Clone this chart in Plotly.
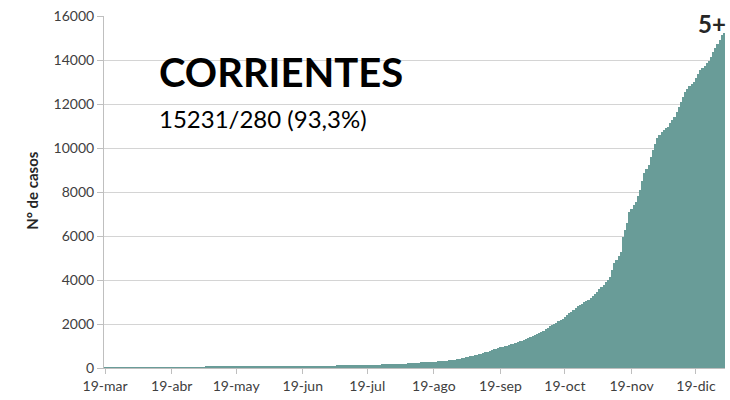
import pandas as pd
import plotly.graph_objects as go

# Daily cumulative confirmed cases, Corrientes, 19-mar-2020 .. 01-ene-2021
start_date = "2020-03-19"
cases = [
    # days 0-46
    1, 1, 2, 2, 3, 3, 4, 4, 5, 5, 6, 6, 7, 7, 8, 8, 9, 9, 10, 10,
    10, 11, 11, 11, 12, 12, 12, 13, 13, 13, 14, 14, 14, 15, 15, 15, 16, 16, 16, 17,
    17, 17, 18, 18, 18, 19, 19,
    # days 47-70
    55, 56, 57, 58, 58, 59, 60, 61, 62, 62, 63, 64, 64, 65, 66, 66, 67, 67, 68, 68,
    69, 69, 70, 70,
    # days 71-107
    88, 89, 90, 90, 91, 92, 92, 93, 94, 94, 95, 96, 96, 97, 98, 98, 99, 100, 100, 101,
    102, 102, 103, 104, 104, 105, 106, 106, 107, 108, 108, 109, 110, 110, 111, 112, 112,
    # days 108-128
    125, 126, 127, 128, 129, 130, 131, 132, 133, 134, 135, 136, 137, 138, 139, 140, 141,
    142, 143, 144, 145,
    # days 129-141
    165, 168, 172, 175, 178, 181, 184, 187, 190, 194, 198, 203, 210,
    # days 142-153
    230, 235, 240, 245, 250, 255, 260, 266, 272, 278, 284, 290,
    # days 154-161
    295, 300, 308, 316, 324, 332, 342, 352,
    # days 162-167
    360, 378, 398, 418, 440, 460,
    # days 168-173
    480, 502, 525, 548, 572, 596,
    # days 174-180
    620, 650, 682, 715, 750, 785, 818,
    # days 181-183
    850, 880, 910,
    # days 184-190
    940, 965, 990, 1020, 1050, 1080, 1110,
    # days 191-198
    1140, 1175, 1210, 1250, 1290, 1330, 1370, 1410,
    # days 199-204
    1450, 1490, 1530, 1580, 1650, 1700,
    # days 205-211
    1760, 1830, 1900, 1960, 2020, 2060, 2120,
    # days 212-215
    2180, 2250, 2330, 2400,
    # days 216-220
    2480, 2560, 2640, 2720, 2800,
    # days 221-225
    2860, 2920, 2990, 3050, 3110,
    # days 226-234
    3170, 3270, 3370, 3470, 3570, 3670, 3770, 3900, 4020,
    # days 235-239
    4150, 4450, 4760, 4930, 5110,
    # days 240-249
    5290, 5970, 6280, 6580, 7100, 7250, 7410, 7560, 7800, 8100,
    # days 250-259
    8500, 8850, 9050, 9230, 9600, 9910, 10200, 10440, 10600, 10720,
    # days 260-269
    10820, 10900, 10970, 11120, 11270, 11420, 11650, 11880, 12100, 12330,
    # days 270-279
    12560, 12680, 12800, 12900, 13010, 13190, 13370, 13550, 13650, 13750,
    # days 280-288
    13850, 13950, 14150, 14350, 14530, 14750, 14910, 15140, 15231,
]

tick_dates = ["2020-03-19", "2020-04-19", "2020-05-19", "2020-06-19", "2020-07-19",
              "2020-08-19", "2020-09-19", "2020-10-19", "2020-11-19", "2020-12-19"]
tick_labels = ["19-mar", "19-abr", "19-may", "19-jun", "19-jul",
               "19-ago", "19-sep", "19-oct", "19-nov", "19-dic"]
y_ticks = [0, 2000, 4000, 6000, 8000, 10000, 12000, 14000, 16000]
y_tick_labels = ["0", "2000", "4000", "6000", "8000", "10000", "12000", "14000", "16000"]

title_text = "CORRIENTES"
subtitle_text = "15231/280 (93,3%)"
corner_text = "5+"
y_title = "N° de casos"

dates = pd.date_range(start_date, periods=len(cases), freq="D")

fig = go.Figure(go.Bar(
    x=dates, y=cases,
    marker=dict(color="#699c98", line=dict(width=0)),
))

FONT = "Lato, 'Open Sans', sans-serif"
fig.update_layout(
    width=730, height=400,
    margin=dict(l=104, r=5, t=16, b=32),
    plot_bgcolor="white", paper_bgcolor="white",
    bargap=0,
    showlegend=False,
    font=dict(family=FONT, color="#404040", size=14),
    xaxis=dict(
        range=[dates[0] - pd.Timedelta(hours=12), dates[-1] + pd.Timedelta(hours=12)],
        tickvals=tick_dates, ticktext=tick_labels,
        showgrid=False, showline=True, linecolor="#bfbfbf", linewidth=1,
        ticks="outside", ticklen=5, tickcolor="#bfbfbf",
        tickfont=dict(size=14, color="#404040"),
        automargin=False,
    ),
    yaxis=dict(
        range=[0, 16000], tickvals=y_ticks, ticktext=y_tick_labels,
        showgrid=True, gridcolor="#d4d4d4", gridwidth=1,
        showline=True, linecolor="#bfbfbf", linewidth=1,
        ticks="outside", ticklen=6, tickcolor="#bfbfbf",
        tickfont=dict(size=14, color="#404040"),
        zeroline=False, automargin=False,
    ),
    annotations=[
        dict(text="<b>" + title_text + "</b>", xref="paper", yref="paper",
             x=0.085, y=0.84, xanchor="left", yanchor="middle", showarrow=False,
             font=dict(size=40, color="#000000", family=FONT)),
        dict(text=subtitle_text, xref="paper", yref="paper",
             x=0.085, y=0.71, xanchor="left", yanchor="middle", showarrow=False,
             font=dict(size=24, color="#000000", family=FONT)),
        dict(text="<b>" + corner_text + "</b>", xref="paper", yref="paper",
             x=1.005, y=0.978, xanchor="right", yanchor="middle", showarrow=False,
             font=dict(size=24, color="#262626", family=FONT)),
        dict(text="<b>" + y_title + "</b>", xref="paper", yref="paper",
             x=-0.116, y=0.506, xanchor="center", yanchor="middle", showarrow=False,
             textangle=-90, font=dict(size=15, color="#262626", family=FONT)),
    ],
)

fig.write_html("out.html", config={"displayModeBar": False},
               post_script="document.body.style.margin='0';")
